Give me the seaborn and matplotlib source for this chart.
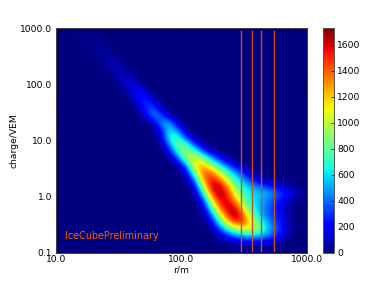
import numpy as np
import seaborn as sns
import matplotlib
matplotlib.use('Agg')
import matplotlib.pyplot as plt

# histogram: 30 columns in log r, 32 rows in log charge, top row first
n_cols = 30
n_rows = 32
row_starts = [1, 2, 3, 4, 5, 5, 6, 7, 7, 8, 9, 9, 10, 11, 11, 12,
              12, 13, 14, 15, 15, 16, 16, 16, 17, 17, 18, 18, 19, 19, 20, 0]
row_counts = [
    [5, 25, 15, 0],
    [5, 30, 25, 0],
    [10, 45, 20, 0],
    [15, 60, 25, 0],
    [25, 80, 30, 0],
    [5, 70, 90, 10],
    [20, 130, 70, 0],
    [40, 160, 50, 0],
    [0, 70, 220, 50, 0],
    [15, 210, 240, 20],
    [70, 340, 180, 10],
    [5, 220, 420, 110, 0],
    [50, 460, 400, 40],
    [20, 480, 560, 90, 0],
    [0, 200, 640, 420, 30],
    [70, 720, 740, 280, 30],
    [10, 480, 880, 760, 300, 30],
    [150, 780, 920, 760, 360, 60],
    [350, 980, 1080, 880, 530, 200, 30],
    [450, 1150, 1280, 900, 640, 340, 90, 10],
    [120, 900, 1400, 1380, 1000, 700, 440, 190, 30],
    [430, 1320, 1580, 1380, 950, 650, 440, 190, 70, 15],
    [130, 1000, 1620, 1680, 1280, 800, 600, 500, 350, 250, 150, 80, 20],
    [30, 600, 1450, 1700, 1480, 1000, 700, 600, 550, 500, 350, 250, 100, 30],
    [230, 1100, 1600, 1600, 1200, 800, 600, 500, 400, 250, 120, 30],
    [90, 750, 1400, 1680, 1550, 950, 650, 500, 350, 200, 80],
    [400, 1050, 1550, 1725, 1280, 750, 500, 350, 220, 70],
    [150, 750, 1250, 1550, 1450, 950, 650, 400, 280, 80],
    [350, 750, 1000, 1150, 1050, 800, 500, 330, 100],
    [100, 300, 450, 550, 600, 550, 400, 250, 80],
    [30, 80, 120, 150, 150, 110, 60],
    [],
]
cut_radii = [296, 367, 428, 550]
r_ticks = [10, 100, 1000]
q_ticks = [0.1, 1, 10, 100, 1000]
cbar_ticks = [0, 200, 400, 600, 800, 1000, 1200, 1400, 1600]

counts = np.zeros((n_rows, n_cols))
for i, vals in enumerate(row_counts):
    counts[i, row_starts[i]:row_starts[i] + len(vals)] = vals


# heatmap cells are index based, so the log axes get mapped by hand
def r_pos(r):
    return (np.log10(r) - 1) / 2 * n_cols


def q_pos(q):
    return (3 - np.log10(q)) / 4 * n_rows


W, H = 374, 281
fig = plt.figure(figsize=(W / 100, H / 100), dpi=100)
ax = fig.add_axes([55.7 / W, 1 - 252.7 / H, 251.3 / W, 224.4 / H])
cax = fig.add_axes([322.7 / W, 1 - 252.7 / H, 11 / W, 224.4 / H])

sns.heatmap(counts, ax=ax, cbar_ax=cax, cmap='jet', vmin=0, vmax=1725,
            xticklabels=False, yticklabels=False)
# same grid again on top of the cells, smoothed like the original
ax.imshow(counts, cmap='jet', vmin=0, vmax=1725, aspect='auto', zorder=1.5,
          extent=(0, n_cols, n_rows, 0), interpolation='bicubic')
ax.set_xlim(0, n_cols)
ax.set_ylim(n_rows, 0)

for r in cut_radii:
    ax.plot([r_pos(r), r_pos(r)], [q_pos(900), q_pos(0.108)], color='#c4521f', lw=1.0, zorder=2)

minor = [m * 10.0 ** e for e in range(-1, 3) for m in range(2, 10)]
ax.set_xticks([r_pos(r) for r in r_ticks])
ax.set_xticklabels(['%.1f' % r for r in r_ticks])
ax.set_yticks([q_pos(q) for q in q_ticks])
ax.set_yticklabels(['%.1f' % q for q in q_ticks])
ax.set_xticks([r_pos(m) for m in minor if 10 < m < 1000], minor=True)
ax.set_yticks([q_pos(m) for m in minor if 0.1 < m < 1000], minor=True)
ax.tick_params(which='major', direction='in', length=3.5, width=0.5, top=True, right=True,
               labelsize=6.6, pad=2.5)
ax.tick_params(axis='x', which='major', pad=1.5)
ax.tick_params(which='minor', direction='in', length=1.8, width=0.4, top=True, right=True)
for s in ax.spines.values():
    s.set_visible(True)
    s.set_linewidth(0.7)
    s.set_color('#444444')

ax.set_xlabel('r/m', fontsize=6.6, labelpad=1)
ax.set_ylabel('charge/VEM', fontsize=6.6, labelpad=1)
ax.text(r_pos(11.8), q_pos(0.195), 'IceCubePreliminary', color='#ff5f00', fontsize=6.9,
        va='center', ha='left', zorder=3)

cbar = ax.collections[0].colorbar
cbar.set_ticks(cbar_ticks)
cbar.ax.tick_params(direction='in', length=2.5, width=0.5, labelsize=6.6, pad=2.5)
cbar.outline.set_visible(True)
cbar.outline.set_linewidth(0.7)
cbar.outline.set_edgecolor('#555555')

fig.savefig('out.png', dpi=100)
